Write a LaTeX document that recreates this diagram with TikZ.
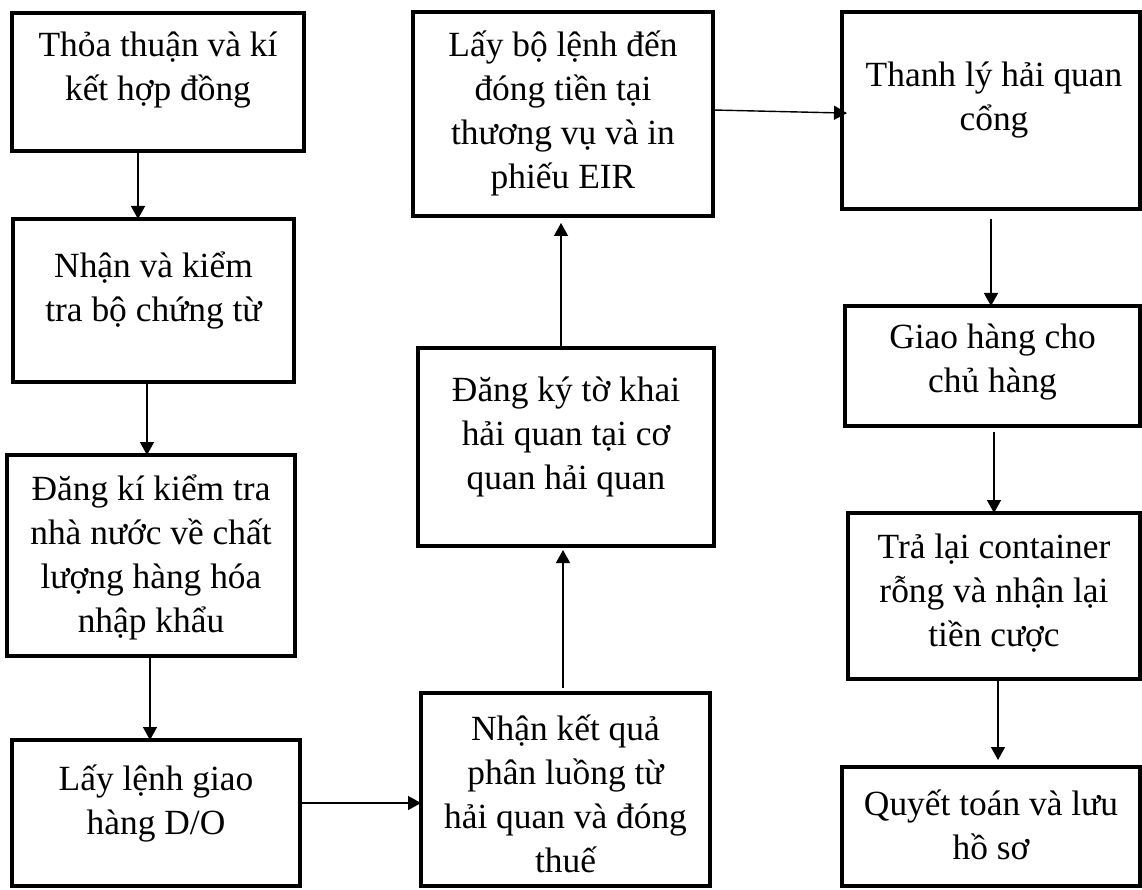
\documentclass[tikz,border=0pt]{standalone}
\usepackage{fontspec}
\setmainfont{Liberation Serif}
\usetikzlibrary{arrows.meta}
\tikzset{
  box/.style={draw=black, line width=4pt, inner sep=0pt, outer sep=0pt, fill=white},
  txt/.style={align=center, inner sep=0pt, font=\fontsize{35.4}{44}\selectfont},
  arr/.style={draw=black, line width=1.4pt, -{Triangle[width=14pt,length=13pt]}}
}
\newcommand{\mkbox}[5]{% name, x1, x2, y1, y2
  \node[box, minimum width={#3-#2}, minimum height={#5-#4}] (#1) at ({(#2+#3)/2},{(#4+#5)/2}) {};}
\begin{document}
\begin{tikzpicture}[x=1pt,y=-1pt]
\fill[white] (0,0) rectangle (1142,890);
\useasboundingbox (0,0) rectangle (1142,890);
% boxes
\mkbox{b1}{12}{304}{13}{151}
\mkbox{b2}{13}{294}{219}{382}
\mkbox{b3}{7}{295}{455}{656}
\mkbox{b4}{12}{300}{740}{886}
\mkbox{b5}{413}{713}{12}{216}
\mkbox{b6}{418}{714}{348}{546}
\mkbox{b7}{421}{710}{693}{886}
\mkbox{b8}{842}{1140}{12}{209}
\mkbox{b9}{845}{1140}{306}{426}
\mkbox{b10}{848}{1140}{513}{679}
\mkbox{b11}{842}{1140}{767}{886}
% texts
\node[txt] (t1) at (158,70) {Thỏa thuận và kí\\kết hợp đồng};
\node[txt] (t2) at (153.5,290) {Nhận và kiểm\\tra bộ chứng từ};
\node[txt] (t3) at (151,557) {Đăng kí kiểm tra\\nhà nước về chất\\lượng hàng hóa\\nhập khẩu};
\node[txt] (t4) at (156,803) {Lấy lệnh giao\\hàng D/O};
\node[txt] (t5) at (563,113) {Lấy bộ lệnh đến\\đóng tiền tại\\thương vụ và in\\phiếu EIR};
\node[txt] (t6) at (566,437) {Đăng ký tờ khai\\hải quan tại cơ\\quan hải quan};
\node[txt] (t7) at (565.5,794) {Nhận kết quả\\phân luồng từ\\hải quan và đóng\\thuế};
\node[txt] (t8) at (994,100) {Thanh lý hải quan\\cổng};
\node[txt] (t9) at (992.5,362) {Giao hàng cho\\chủ hàng};
\node[txt] (t10) at (994,593) {Trả lại container\\rỗng và nhận lại\\tiền cược};
\node[txt] (t11) at (991,825) {Quyết toán và lưu\\hồ sơ};
% connectors
\draw[arr] ([xshift=-20pt]b1.south) -- ([xshift=-15.5pt]b2.north);
\draw[arr] ([xshift=-6.5pt]b2.south) -- ([xshift=-4pt]b3.north);
\draw[arr] ([xshift=-1pt]b3.south) -- ([xshift=-6pt]b4.north);
\draw[arr] ([yshift=10pt]b4.east) -- ([yshift=-13.5pt]b7.west);
\draw[arr, shorten <=5pt, shorten >=4pt] ([xshift=-2.5pt]b7.north) -- ([xshift=-3pt]b6.south);
\draw[arr, shorten >=7pt] ([xshift=-5pt]b6.north) -- ([xshift=-2pt]b5.south);
\draw[arr, shorten >=-5pt] ([yshift=4pt]b5.east) -- ([yshift=-2.5pt]b8.west);
\draw[arr, shorten <=10pt] (b8.south) -- ([xshift=-1.5pt]b9.north);
\draw[arr, shorten <=6pt] ([xshift=1.5pt]b9.south) -- (b10.north);
\draw[arr, shorten >=7pt] ([xshift=4pt]b10.south) -- ([xshift=7pt]b11.north);
\end{tikzpicture}
\end{document}
